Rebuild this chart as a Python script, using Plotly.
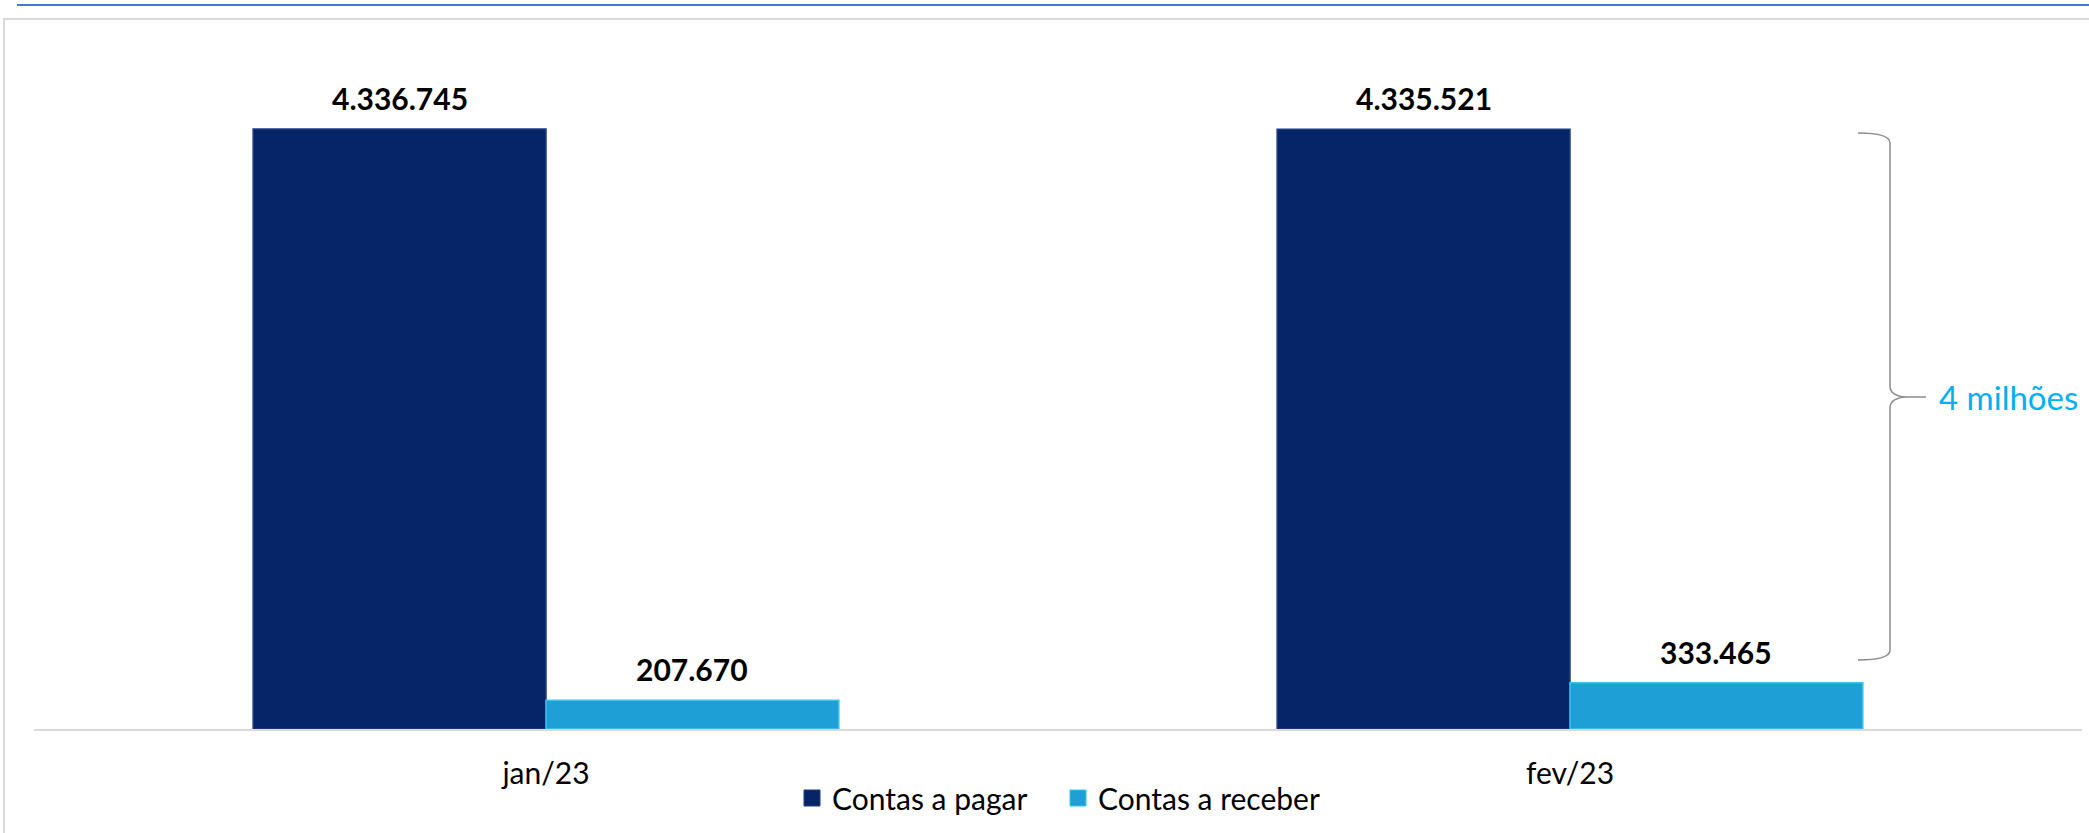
import plotly.graph_objects as go

# ---- data ----
categories = ["jan/23", "fev/23"]
contas_pagar = [4336745, 4335521]
contas_receber = [207670, 333465]
series_names = ["Contas a pagar", "Contas a receber"]
brace_label = "4 milhões"

# ---- layout constants (pixels) ----
W, H = 2089, 833
L, R, T, B = 34, 2082, 60, 729
PW, PH = R - L, B - T
BARGAP = 0.428
YMAX = 4336745 * PH / (B - 129)

def px(x):
    return (x - L) / PW

def py(y):
    return (B - y) / PH

def fmt(v):
    return f"{v:,}".replace(",", ".")

FONT = "Lato"
colors = ["#062468", "#1E9FD6"]
line_colors = ["#1E3C82", "#3BC4F2"]

fig = go.Figure()
for name, vals, c, lc in zip(series_names, [contas_pagar, contas_receber], colors, line_colors):
    fig.add_trace(go.Bar(
        x=categories, y=vals, name=name, showlegend=False,
        marker=dict(color=c, line=dict(color=lc, width=1.5)),
        hoverinfo="skip",
    ))
# legend entries with larger square swatches
for name, c, lc in zip(series_names, colors, line_colors):
    fig.add_trace(go.Scatter(
        x=[None], y=[None], mode="markers", name=name,
        marker=dict(symbol="square", size=17, color=c, line=dict(color=lc, width=1)),
    ))

# data labels
bw = (1 - BARGAP) / 2
annotations = []
for k, vals in enumerate([contas_pagar, contas_receber]):
    off = -bw / 2 if k == 0 else bw / 2
    for i, v in enumerate(vals):
        annotations.append(dict(
            x=i + off, y=v, xref="x", yref="y", text=f"<b>{fmt(v)}</b>",
            showarrow=False, yanchor="bottom", yshift=11,
            font=dict(family=FONT, size=30, color="#000000"),
        ))

annotations.append(dict(
    x=px(1937), y=py(397), xref="paper", yref="paper", text=brace_label,
    showarrow=False, xanchor="left", yanchor="middle",
    font=dict(family=FONT, size=33, color="#00B0F0"),
))

# brace path (pixel -> paper)
def P(x, y):
    return f"{px(x):.5f},{py(y):.5f}"

brace = (
    f"M {P(1858,133)} Q {P(1890,133)} {P(1890,143)} "
    f"L {P(1890,386)} Q {P(1890,396)} {P(1906,397)} L {P(1926,397)} "
    f"M {P(1906,397)} Q {P(1890,398)} {P(1890,408)} "
    f"L {P(1890,650)} Q {P(1890,660)} {P(1858,660)}"
)

shapes = [
    dict(type="path", path=brace, xref="paper", yref="paper",
         line=dict(color="#8C8C8C", width=1.5)),
    dict(type="rect", xref="paper", yref="paper",
         x0=px(4), y0=py(19), x1=px(2100), y1=py(845),
         line=dict(color="#D9D9D9", width=2), fillcolor="rgba(0,0,0,0)"),
    dict(type="line", xref="paper", yref="paper",
         x0=px(17), y0=py(5), x1=px(2100), y1=py(5),
         line=dict(color="#3F7BD6", width=2)),
]

fig.update_layout(
    width=W, height=H,
    margin=dict(l=L, r=W - R, t=T, b=H - B),
    paper_bgcolor="white", plot_bgcolor="white",
    barmode="group", bargap=BARGAP, bargroupgap=0,
    font=dict(family=FONT, color="#000000"),
    showlegend=True,
    legend=dict(orientation="h", x=0.5, xanchor="center",
                y=py(798), yanchor="middle", entrywidth=221,
                font=dict(family=FONT, size=30, color="#000000"),
                itemclick=False, itemdoubleclick=False),
    annotations=annotations,
    shapes=shapes,
)
fig.update_xaxes(
    showline=True, linecolor="#D9D9D9", linewidth=2,
    ticks="outside", ticklen=17, tickcolor="rgba(0,0,0,0)",
    tickfont=dict(family=FONT, size=30, color="#000000"),
    showgrid=False, zeroline=False,
)
fig.update_yaxes(range=[0, YMAX], visible=False, showgrid=False, zeroline=False)

fig.write_html("out.html", config={"displayModeBar": False},
               post_script="document.body.style.margin='0';document.body.style.overflow='hidden';")
